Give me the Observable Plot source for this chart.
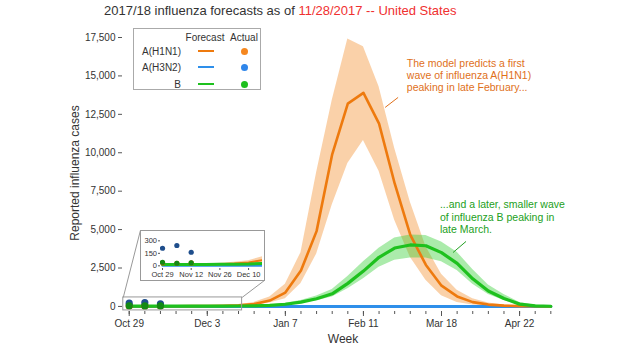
<!DOCTYPE html>
<html><head><meta charset="utf-8">
<script src="https://cdn.jsdelivr.net/npm/d3@7"></script>
<script src="https://cdn.jsdelivr.net/npm/@observablehq/plot@0.6"></script>
<style>
body{margin:0;background:#fff;font-family:"Liberation Sans",Arial,sans-serif;}
#wrap{position:relative;width:620px;height:350px;overflow:hidden;background:#fff}
#title{height:26px;font-size:13px;line-height:22px;padding-left:104px;color:#333;white-space:nowrap}
#title .red{color:#f03030}
.abs{position:absolute}
#ylabel{left:75px;top:173px;transform:translate(-50%,-50%) rotate(-90deg);font-size:12px;color:#333;white-space:nowrap}
#xlabel{left:343px;top:339px;transform:translate(-50%,-50%);font-size:12px;color:#333}
#legend{left:133px;top:28px;width:128px;height:62px;box-sizing:border-box;border:1px solid #aaa;background:#fff;font-size:10px;color:#333}
#legend div{position:absolute;white-space:nowrap}
#inset{background:#fff}
#insetBorder{border:1px solid #999;box-sizing:border-box;pointer-events:none}
</style></head>
<body>
<div id="wrap">
  <div id="title">2017/18 influenza forecasts as of <span class="red">11/28/2017 -- United States</span></div>
  <div id="main"></div>
  <div id="ylabel" class="abs">Reported influenza cases</div>
  <div id="xlabel" class="abs">Week</div>
  <div id="legend" class="abs"></div>
  <div id="inset" class="abs"></div>
  <div id="insetBorder" class="abs"></div>
</div>
<script>
// ---------- data ----------
const weeks = ["2017-10-29","2017-11-05","2017-11-12","2017-11-19","2017-11-26","2017-12-03","2017-12-10",
  "2017-12-17","2017-12-24","2017-12-31","2018-01-07","2018-01-14","2018-01-21","2018-01-28","2018-02-04",
  "2018-02-11","2018-02-18","2018-02-25","2018-03-04","2018-03-11","2018-03-18","2018-03-25","2018-04-01",
  "2018-04-08","2018-04-15","2018-04-22","2018-04-29","2018-05-06"];
const h1n1   = [10,10,12,15,20,28,40,70,150,380,900,2340,4900,9900,13200,13900,11900,8000,4650,2700,1350,650,280,120,50,20,10,5];
const h1n1Lo = [6,6,7,9,12,17,25,40,90,220,500,1500,3400,6600,9300,10800,8800,5600,3200,1700,700,250,90,30,10,3,1,0];
const h1n1Hi = [15,15,18,22,30,42,60,110,260,620,1450,3500,8700,13400,17400,16900,14300,10300,6800,3900,2100,1050,500,220,90,40,15,6];
const h3n2   = [0,0,0,0,0,0,0,0,0,0,0,0,0,0,0,0,0,0,0,0,0,0,0,0,0,0,0,0];
const bMean  = [15,15,16,17,18,20,22,28,40,70,140,280,500,820,1500,2300,3200,3800,4000,3950,3500,2800,1800,1000,520,150,40,10];
const bLo    = [10,10,11,12,13,14,15,20,28,50,100,200,370,620,1150,1800,2550,3000,3150,3150,2900,2340,1450,780,380,90,20,3];
const bHi    = [21,21,22,24,25,28,31,39,60,100,200,380,680,1100,1950,2900,3780,4450,4650,4620,4200,3530,2400,1400,780,260,80,25];
const actualWeeks = ["2017-10-29","2017-11-05","2017-11-12"];
const actualH1N1 = [35,30,35];
const actualH3N2 = [211,244,163];
const actualB    = [43,31,36];
const yTicks = [0,2500,5000,7500,10000,12500,15000,17500];
const xLabelTicks = ["2017-10-29","2017-12-03","2018-01-07","2018-02-11","2018-03-18","2018-04-22"];
const insetYTicks = [0,150,300];
const insetXTicks = ["2017-10-29","2017-11-12","2017-11-26","2017-12-10"];
const seriesNames = ["A(H1N1)","A(H3N2)","B"];
const noteH1 = "The model predicts a first\nwave of influenza A(H1N1)\npeaking in late February...";
const noteB  = "...and a later, smaller wave\nof influenza B peaking in\nlate March.";

// ---------- styles ----------
const COL = {h1:"#EE7A0E", h3:"#2E8FEA", b:"#1EC11E"};
const BAND = {h1:"#F28C28", b:"#2ECC2E"};
const DOT = {h1:"#C2600A", h3:"#1F4E8C", b:"#138A13"};
const LEG_DOT = {h1:"#F5871F", h3:"#2F86EA", b:"#1DBF1D"};
const wk = w => new Date(Date.UTC(2017,9,29) + w*7*864e5);

const table = weeks.map((w,i)=>({date:new Date(w), h1:h1n1[i], h1lo:h1n1Lo[i], h1hi:h1n1Hi[i],
  h3:h3n2[i], b:bMean[i], blo:bLo[i], bhi:bHi[i]}));
const actual = [];
actualWeeks.forEach((w,i)=>{
  actual.push({date:new Date(w), v:actualH1N1[i], s:"h1"});
  actual.push({date:new Date(w), v:actualH3N2[i], s:"h3"});
  actual.push({date:new Date(w), v:actualB[i], s:"b"});
});
const actualOrdered = [...actual.filter(d=>d.s==="h1"), ...actual.filter(d=>d.s==="h3"), ...actual.filter(d=>d.s==="b")];

const zoomRect = {x1:wk(-0.38), x2:wk(7.23), y1:-260, y2:585};
const insetBox = {x1:wk(0.72), x2:wk(8.66), y1:1690, y2:4950};

function seriesMarks(dotR, lw){
  return [
    Plot.areaY(table,{x:"date", y1:"h1lo", y2:"h1hi", fill:BAND.h1, fillOpacity:0.4}),
    Plot.areaY(table,{x:"date", y1:"blo", y2:"bhi", fill:BAND.b, fillOpacity:0.4}),
    Plot.lineY(table,{x:"date", y:"h3", stroke:COL.h3, strokeWidth:lw.h3}),
    Plot.lineY(table,{x:"date", y:"h1", stroke:COL.h1, strokeWidth:lw.h1}),
    Plot.lineY(table,{x:"date", y:"b", stroke:COL.b, strokeWidth:lw.b}),
    Plot.dot(actualOrdered,{x:"date", y:"v", r:dotR, fill:d=>DOT[d.s], stroke:"none"})
  ];
}

const main = Plot.plot({
  width:620, height:324,
  marginLeft:122, marginRight:65, marginTop:11, marginBottom:39,
  style:{fontFamily:"'Liberation Sans',Arial,sans-serif", fontSize:"10px", color:"#333", background:"transparent"},
  x:{type:"utc", domain:[wk(-0.43), wk(27.3)]},
  y:{domain:[-330,17500]},
  marks:[
    ...seriesMarks(3.6,{h1:2.6,h3:3,b:3.2}),
    Plot.rect([zoomRect],{x1:"x1",x2:"x2",y1:"y1",y2:"y2", fill:"none", stroke:"#999", strokeWidth:1}),
    Plot.link([
      {xa:zoomRect.x1, ya:zoomRect.y2, xb:insetBox.x1, yb:insetBox.y2},
      {xa:zoomRect.x2, ya:zoomRect.y2, xb:insetBox.x2, yb:insetBox.y1}
    ],{x1:"xa",y1:"ya",x2:"xb",y2:"yb", stroke:"#999", strokeWidth:1}),
    Plot.text([{x:wk(17.78), y:15050, t:noteH1}],{x:"x", y:"y", text:"t", textAnchor:"start", lineAnchor:"middle",
      fill:"#E0701A", fontSize:10.5, lineHeight:1.16}),
    Plot.text([{x:wk(19.9), y:5840, t:noteB}],{x:"x", y:"y", text:"t", textAnchor:"start", lineAnchor:"middle",
      fill:"#22A022", fontSize:10.5, lineHeight:1.16}),
    Plot.link([{xa:wk(16.39), ya:12950, xb:wk(17.22), yb:13600}],{x1:"xa",y1:"ya",x2:"xb",y2:"yb", stroke:"#E0701A", strokeWidth:1}),
    Plot.link([{xa:wk(20.74), ya:3510, xb:wk(21.57), yb:4230}],{x1:"xa",y1:"ya",x2:"xb",y2:"yb", stroke:"#22A022", strokeWidth:1}),
    Plot.axisY({ticks:yTicks, tickFormat:d3.format(","), tickSize:4, tickPadding:3, label:null, stroke:"#555"}),
    Plot.axisX({ticks:weeks.map(w=>new Date(w)), tickSize:3, tickFormat:()=>"", label:null, stroke:"#555"}),
    Plot.axisX({ticks:xLabelTicks.map(w=>new Date(w)), tickSize:5, tickPadding:3, tickFormat:d3.utcFormat("%b %-d"), label:null, stroke:"#555"})
  ]
});
document.getElementById("main").appendChild(main);

// ---------- inset ----------
const sx = main.scale("x"), sy = main.scale("y");
const ix = Math.round(sx.apply(insetBox.x1)), ix2 = Math.round(sx.apply(insetBox.x2));
const iy = Math.round(sy.apply(insetBox.y2)) + 26, iy2 = Math.round(sy.apply(insetBox.y1)) + 26;
const iw = ix2 - ix, ih = iy2 - iy;
const insetDiv = document.getElementById("inset");
Object.assign(insetDiv.style,{left:ix+"px", top:iy+"px", width:iw+"px", height:ih+"px"});
const border = document.getElementById("insetBorder");
Object.assign(border.style,{left:ix+"px", top:iy+"px", width:(iw+1)+"px", height:(ih+1)+"px"});
const inset = Plot.plot({
  width:iw, height:ih,
  marginLeft:20, marginRight:2, marginTop:7, marginBottom:12,
  style:{fontFamily:"'Liberation Sans',Arial,sans-serif", fontSize:"7.5px", color:"#333", background:"transparent"},
  x:{type:"utc", domain:[wk(-0.14), wk(6.97)]},
  y:{domain:[-32,340]},
  marks:[
    ...seriesMarks(2.6,{h1:2,h3:2,b:3}),
    Plot.axisY({ticks:insetYTicks, tickSize:2, tickPadding:1.5, label:null, stroke:"#555"}),
    Plot.axisX({ticks:insetXTicks.map(w=>new Date(w)), tickSize:2, tickPadding:1, tickFormat:d3.utcFormat("%b %-d"), label:null, stroke:"#555"})
  ],
  clip:true
});
insetDiv.appendChild(inset);

// ---------- legend ----------
const leg = document.getElementById("legend");
const keys = ["h1","h3","b"];
leg.innerHTML =
  `<div style="left:71px;top:8px;transform:translate(-50%,-50%)">Forecast</div>` +
  `<div style="left:110px;top:8px;transform:translate(-50%,-50%)">Actual</div>` +
  keys.map((k,i)=>{
    const y = [22,38,55][i];
    return `<div style="right:${128-49}px;top:${y}px;transform:translateY(-50%)">${seriesNames[i]}</div>`+
      `<div style="left:64px;top:${y-1}px;width:16px;height:2px;background:${COL[k]}"></div>`+
      `<div style="left:106.5px;top:${y-3.5}px;width:7px;height:7px;border-radius:50%;background:${LEG_DOT[k]}"></div>`;
  }).join("");
</script>
</body></html>
